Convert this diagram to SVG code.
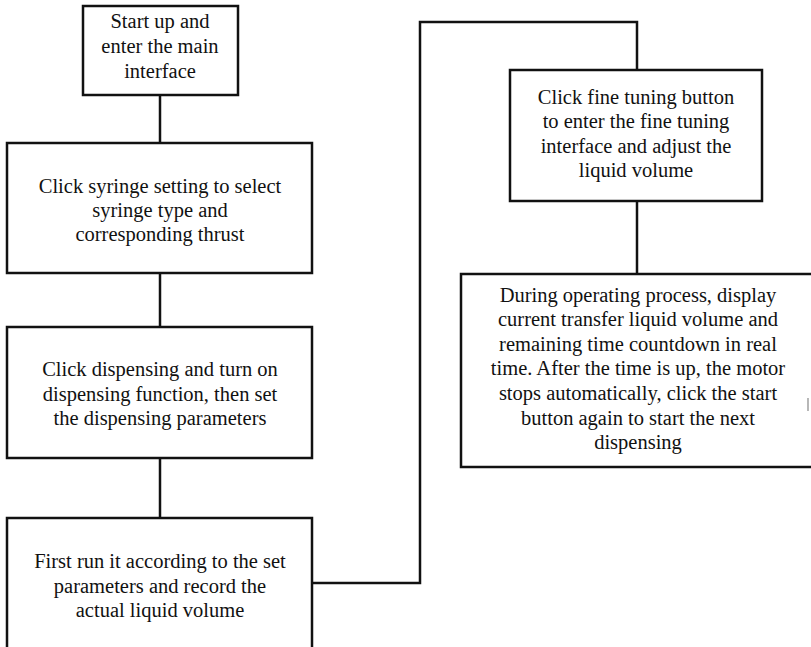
<svg xmlns="http://www.w3.org/2000/svg" width="811" height="647" viewBox="0 0 811 647">
  <style>
    .box { fill: #ffffff; stroke: #111111; stroke-width: 2.5; }
    .wire { fill: none; stroke: #111111; stroke-width: 2.5; }
    .lbl { font-family: 'Liberation Serif', 'Times New Roman', Times, 'DejaVu Serif', serif; font-size: 20.5px; fill: #111111; text-anchor: middle; }
  </style>
  <rect width="811" height="647" fill="#ffffff"/>

  <!-- connectors -->
  <g id="connectors">
    <line class="wire" x1="160" y1="95" x2="160" y2="143"/>
    <line class="wire" x1="160" y1="273" x2="160" y2="327"/>
    <line class="wire" x1="160" y1="458" x2="160" y2="518"/>
    <polyline class="wire" points="312,583 420,583 420,22 637,22 637,70"/>
    <line class="wire" x1="637" y1="201" x2="637" y2="274"/>
  </g>

  <g id="start">
    <rect class="box" x="83" y="6" width="155" height="89"/>
    <text class="lbl" x="160" y="28">Start up and</text>
    <text class="lbl" x="160" y="53">enter the main</text>
    <text class="lbl" x="160" y="78">interface</text>
  </g>

  <g id="syringe">
    <rect class="box" x="7" y="143" width="305" height="130"/>
    <text class="lbl" x="160" y="193">Click syringe setting to select</text>
    <text class="lbl" x="160" y="217">syringe type and</text>
    <text class="lbl" x="160" y="241">corresponding thrust</text>
  </g>

  <g id="dispensing">
    <rect class="box" x="7" y="327" width="305" height="131"/>
    <text class="lbl" x="160" y="376">Click dispensing and turn on</text>
    <text class="lbl" x="160" y="401">dispensing function, then set</text>
    <text class="lbl" x="160" y="425">the dispensing parameters</text>
  </g>

  <g id="first-run">
    <rect class="box" x="7" y="518" width="305" height="150"/>
    <text class="lbl" x="160" y="568">First run it according to the set</text>
    <text class="lbl" x="160" y="593">parameters and record the</text>
    <text class="lbl" x="160" y="617">actual liquid volume</text>
  </g>

  <g id="fine-tuning">
    <rect class="box" x="510" y="70" width="252" height="131"/>
    <text class="lbl" x="636" y="104">Click fine tuning button</text>
    <text class="lbl" x="636" y="128">to enter the fine tuning</text>
    <text class="lbl" x="636" y="153">interface and adjust the</text>
    <text class="lbl" x="636" y="177">liquid volume</text>
  </g>

  <g id="operating">
    <rect class="box" x="461" y="274" width="354" height="193"/>
    <text class="lbl" x="638" y="302">During operating process, display</text>
    <text class="lbl" x="638" y="326">current transfer liquid volume and</text>
    <text class="lbl" x="638" y="351">remaining time countdown in real</text>
    <text class="lbl" x="638" y="375">time. After the time is up, the motor</text>
    <text class="lbl" x="638" y="400">stops automatically, click the start</text>
    <text class="lbl" x="638" y="425">button again to start the next</text>
    <text class="lbl" x="638" y="449">dispensing</text>
  </g>

  <!-- small tick near the right edge -->
  <line x1="808" y1="398" x2="808" y2="411" stroke="#888888" stroke-width="1.2"/>
</svg>
